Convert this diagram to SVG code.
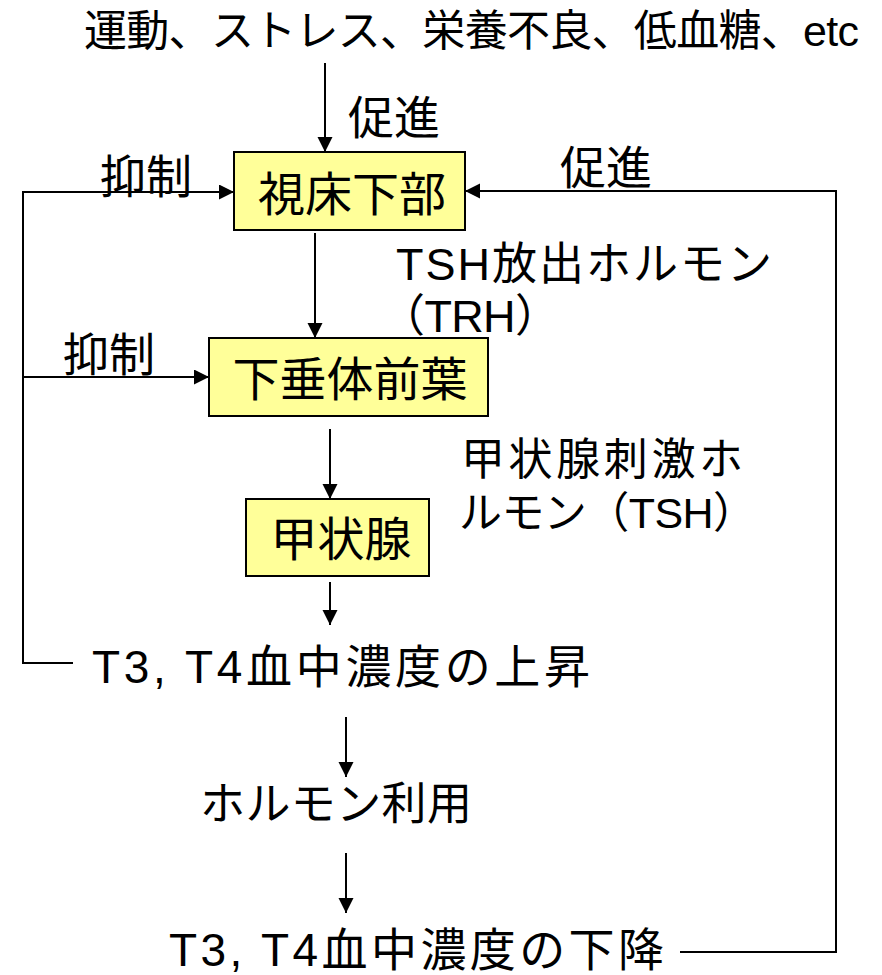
<svg xmlns="http://www.w3.org/2000/svg" width="882" height="975" viewBox="0 0 882 975">
<style>
text{font-family:"Liberation Sans","Noto Sans CJK JP",sans-serif;fill:#000}
.box{fill:#FFFF99;stroke:#000;stroke-width:2}
.c{fill:none;stroke:#000;stroke-width:2}
.bt{font-size:47px;text-anchor:middle}
.lb{font-size:46px}
</style>
<defs>
<marker id="ah" markerUnits="userSpaceOnUse" markerWidth="16" markerHeight="16" refX="15" refY="7.5" orient="auto">
<path d="M0,0 L15,7.5 L0,15 Z" fill="#000"/>
</marker>
</defs>
<g id="connectors">
<line class="c" x1="325" y1="63" x2="325" y2="152" marker-end="url(#ah)"/>
<line class="c" x1="315" y1="233" x2="315" y2="338" marker-end="url(#ah)"/>
<line class="c" x1="330" y1="429" x2="330" y2="499" marker-end="url(#ah)"/>
<line class="c" x1="330" y1="582" x2="330" y2="625" marker-end="url(#ah)"/>
<line class="c" x1="346" y1="717" x2="346" y2="777" marker-end="url(#ah)"/>
<line class="c" x1="346" y1="853" x2="346" y2="913" marker-end="url(#ah)"/>
<polyline class="c" points="73,663 23,663 23,192 234,192" marker-end="url(#ah)"/>
<line class="c" x1="23" y1="377" x2="209" y2="377" marker-end="url(#ah)"/>
<polyline class="c" points="680,952 836,952 836,191 465,191" marker-end="url(#ah)"/>
</g>
<g id="trigger">
<text x="84" y="46" font-size="43" textLength="775" lengthAdjust="spacing">運動、ストレス、栄養不良、低血糖、etc</text>
</g>
<g id="label-promote-top"><text class="lb" x="348" y="134">促進</text></g>
<g id="label-inhibit-1"><text class="lb" x="100" y="193">抑制</text></g>
<g id="label-inhibit-2"><text class="lb" x="63" y="371">抑制</text></g>
<g id="label-promote-right"><text class="lb" x="560" y="184">促進</text></g>
<g id="hypothalamus">
<rect class="box" x="234" y="152" width="231" height="78"/>
<text class="bt" x="352" y="211">視床下部</text>
</g>
<g id="trh-label">
<text x="396" y="280" font-size="45" textLength="376" lengthAdjust="spacing">TSH放出ホルモン</text>
<text x="380" y="332" font-size="45" textLength="180" lengthAdjust="spacing">（TRH）</text>
</g>
<g id="pituitary">
<rect class="box" x="209" y="338" width="279" height="78"/>
<text class="bt" x="350" y="396">下垂体前葉</text>
</g>
<g id="tsh-label">
<text x="461" y="475" font-size="44" textLength="282" lengthAdjust="spacing">甲状腺刺激ホ</text>
<text x="459" y="528" font-size="43" textLength="297" lengthAdjust="spacing">ルモン（TSH）</text>
</g>
<g id="thyroid">
<rect class="box" x="246" y="499" width="183" height="77"/>
<text class="bt" x="341" y="556">甲状腺</text>
</g>
<g id="t3t4-rise">
<text x="92" y="683" font-size="46" textLength="498" lengthAdjust="spacing">T3, T4血中濃度の上昇</text>
</g>
<g id="hormone-use">
<text x="200" y="820" font-size="45" textLength="272" lengthAdjust="spacing">ホルモン利用</text>
</g>
<g id="t3t4-fall">
<text x="169" y="966" font-size="46" textLength="495" lengthAdjust="spacing">T3, T4血中濃度の下降</text>
</g>
</svg>
